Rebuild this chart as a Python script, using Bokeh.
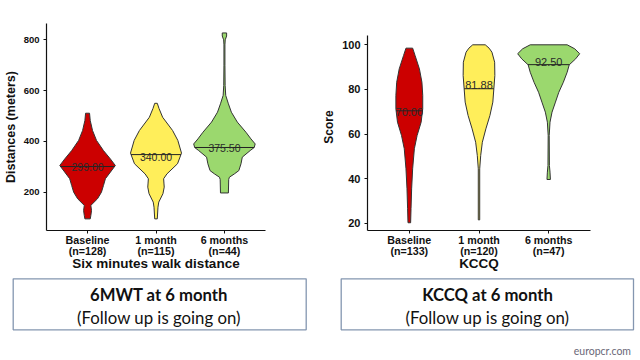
import numpy as np
from bokeh.plotting import figure
from bokeh.layouts import column, row
from bokeh.models import Range1d, FixedTicker
from bokeh.core.properties import value
from bokeh.embed import file_html
from bokeh.resources import INLINE

# ---------------- data ----------------
groups = ["Baseline", "1 month", "6 months"]
mwt_n = [128, 115, 44]
kccq_n = [133, 120, 47]
mwt_median_labels = [299.00, 340.00, 375.50]
kccq_median_labels = [70.00, 81.88, 92.50]
mwt_quantile_lines = [301, 348, 376]
kccq_quantile_lines = [70.4, 80.3, 91.1]

# violin outlines: value levels and relative density (half width)
mwt_base_y = [511, 482, 443, 404, 364, 331, 305, 279, 253, 226, 200, 174, 148, 128, 108, 95]
mwt_base_d = [2, 2.7, 5, 9, 16, 23, 28, 23, 18, 16, 14, 10, 3.3, 4, 3.3, 2.7]
mwt_1m_y = [550, 530, 495, 443, 404, 354, 312, 272, 253, 236, 220, 194, 161, 141, 95]
mwt_1m_d = [1.3, 3, 6.7, 16.7, 22, 25.7, 21.7, 11, 7.7, 8, 8.3, 7, 2.8, 2, 1.3]
mwt_6m_y = [827, 815, 800, 780, 700, 620, 581, 548, 515, 476, 436, 410, 390, 376, 364, 338, 312, 285, 272, 259, 250, 197]
mwt_6m_d = [2.2, 2.2, 0.8, 0.5, 0.5, 0.7, 1.3, 4, 7, 13, 21.7, 26.7, 31, 30, 26, 18, 16.7, 14.5, 10, 5, 4.3, 4]

kccq_base_y = [98.5, 95.2, 89.2, 83.2, 77.3, 71.3, 65.3, 59.3, 53.4, 44.4, 35.4, 26.5, 20.2]
kccq_base_d = [3.3, 5.7, 10, 12.5, 13.3, 13.3, 11.7, 7.7, 5, 3.3, 2.3, 1.7, 1.3]
kccq_1m_y = [100, 98.5, 96.7, 92.2, 86.2, 80.3, 74.3, 68.3, 62.3, 56.3, 50.4, 44.4, 21.5]
kccq_1m_d = [6.2, 10, 12.8, 15.5, 15.7, 14.7, 13.7, 10.8, 6.8, 3.3, 1.7, 0.7, 0.7]
kccq_6m_y = [100, 98.2, 96, 93.7, 91, 87.7, 83.2, 78.7, 74.3, 69.8, 65.3, 59.3, 45.9, 42.9, 39.6]
kccq_6m_d = [18.3, 25.8, 30.7, 26.7, 20.3, 18.3, 14.5, 10, 6.7, 3.3, 1.3, 0.5, 0.7, 1.3, 1.7]

colors = ["#CC0000", "#FFEE5A", "#9BD86E"]
mwt_ticks = [200, 400, 600, 800]
kccq_ticks = [20, 40, 60, 80, 100]

ARIAL = "Liberation Sans"
TOP_H = 276
BORDER_TOP = 23
BORDER_BOTTOM = 46


def violin_fig(width, bl, br, yrange, ybounds, ticks, profiles, qlines, labels, ns,
               xtitle, ytitle, ytick_size, ytitle_size, label_size):
    p = figure(width=width, height=TOP_H, x_range=Range1d(0.4, 3.6),
               y_range=Range1d(*yrange), output_backend="svg",
               toolbar_location=None, min_border_left=bl, min_border_right=br,
               min_border_top=BORDER_TOP, min_border_bottom=BORDER_BOTTOM)
    p.outline_line_color = None
    p.grid.visible = False
    scale = 1 / 69.0
    for i, (ys, ds) in enumerate(profiles):
        c = i + 1
        xs = [c + d * scale for d in ds] + [c - d * scale for d in ds[::-1]]
        yy = list(ys) + list(ys[::-1])
        p.patch(xs, yy, fill_color=colors[i], line_color="#333333", line_width=1)
        w = float(np.interp(qlines[i], ys[::-1], ds[::-1])) * scale
        p.segment(x0=[c - w], y0=[qlines[i]], x1=[c + w], y1=[qlines[i]],
                  line_color="#222222", line_width=1)
    p.text(x=[1, 2, 3], y=labels, text=[f"{v:.2f}" for v in labels],
           text_align="center", text_baseline="alphabetic",
           text_font=value(ARIAL), text_font_size=label_size, text_color="#2a2a2a")

    p.xaxis.ticker = FixedTicker(ticks=[1, 2, 3], minor_ticks=[])
    p.xaxis.major_label_overrides = {i + 1: f"{g}\n(n={n})" for i, (g, n) in enumerate(zip(groups, ns))}
    p.yaxis.ticker = FixedTicker(ticks=ticks, minor_ticks=[])
    p.yaxis.bounds = ybounds
    for ax in (p.xaxis[0], p.yaxis[0]):
        ax.axis_line_color = "#111111"
        ax.axis_line_width = 1.2
        ax.major_tick_line_color = "#111111"
        ax.major_tick_out = 3
        ax.major_tick_in = 0
        ax.minor_tick_out = 0
        ax.minor_tick_in = 0
        ax.major_label_text_font = ARIAL
        ax.major_label_text_font_style = "bold"
        ax.major_label_text_color = "#111111"
        ax.axis_label_text_font = ARIAL
        ax.axis_label_text_font_style = "bold"
        ax.axis_label_text_color = "#111111"
    p.xaxis.major_label_text_font_size = "10.7px"
    p.xaxis.major_label_text_line_height = 0.95
    p.xaxis.major_label_standoff = 0
    p.xaxis.axis_label = xtitle
    p.xaxis.axis_label_text_font_size = "13.5px"
    p.xaxis.axis_label_standoff = -4
    p.yaxis.major_label_text_font_size = ytick_size
    p.yaxis.major_label_standoff = 4
    p.yaxis.axis_label = ytitle
    p.yaxis.axis_label_text_font_size = ytitle_size
    p.yaxis.axis_label_standoff = 3
    return p


p1 = violin_fig(316, 45, 51, (49.2, 864.2), (49.2, 864.2), mwt_ticks,
                [(mwt_base_y, mwt_base_d), (mwt_1m_y, mwt_1m_d), (mwt_6m_y, mwt_6m_d)],
                mwt_quantile_lines, mwt_median_labels, mwt_n,
                "Six minutes walk distance", "Distances (meters)", "9.5px", "12.5px", "10.5px")
p2 = violin_fig(324, 51, 50, (16.73, 109.55), (16.73, 104.2), kccq_ticks,
                [(kccq_base_y, kccq_base_d), (kccq_1m_y, kccq_1m_d), (kccq_6m_y, kccq_6m_d)],
                kccq_quantile_lines, kccq_median_labels, kccq_n,
                "KCCQ", "Score", "11px", "12px", "11px")

# ---------------- bottom notes ----------------
p3 = figure(width=640, height=360 - TOP_H, x_range=Range1d(0, 640),
            y_range=Range1d(360, TOP_H), x_axis_type=None, y_axis_type=None,
            output_backend="svg", toolbar_location=None, min_border=0)
p3.outline_line_color = None
p3.grid.visible = False
p3.quad(left=[12.7, 340.7], right=[305.7, 633], top=[278.3, 278.3],
        bottom=[329.3, 329.3], fill_color=None, line_color="#8496B0", line_width=1.3)
p3.text(x=[158.5, 487], y=[294, 294], text=["6MWT at 6 month", "KCCQ at 6 month"],
        text_font=value("Lato"), text_font_style="bold", text_font_size="16.7px",
        text_align="center", text_baseline="middle", text_color="#111111")
p3.text(x=[158.5, 487], y=[316.7, 316.7],
        text=["(Follow up is going on)", "(Follow up is going on)"],
        text_font=value("Lato"), text_font_size="16.8px",
        text_align="center", text_baseline="middle", text_color="#111111")
p3.text(x=[630.5], y=[350], text=["europcr.com"], text_font=value("Lato"),
        text_font_size="10.5px", text_align="right", text_baseline="middle",
        text_color="#6a6878")

layout = column(row(p1, p2), p3)
open("out.html", "w").write(file_html(layout, INLINE))
